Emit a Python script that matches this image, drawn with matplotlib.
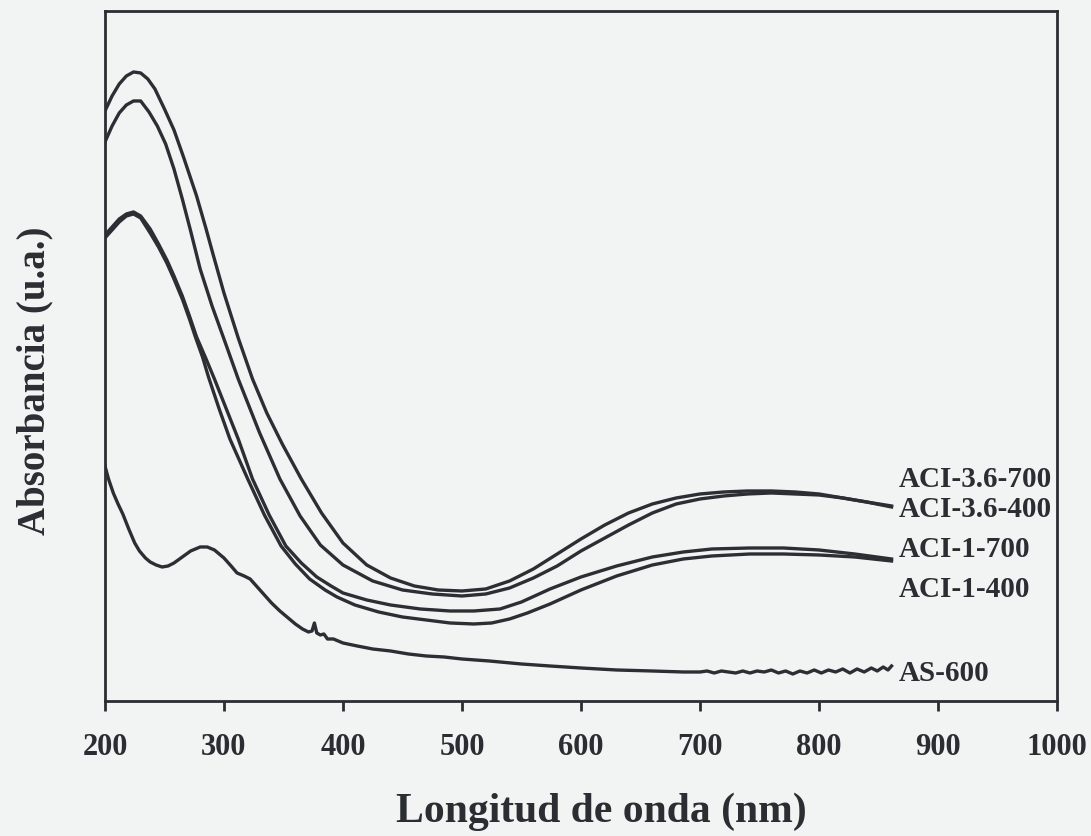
import matplotlib.pyplot as plt

plt.rcParams["font.family"] = ["Liberation Serif", "DejaVu Serif"]
plt.rcParams["font.weight"] = "bold"

LINE_COLOR = "#2b2f34"
TEXT_COLOR = "#2a2d31"
PAPER = "#f2f3f3"

# Espectros UV-vis (longitud de onda en nm, absorbancia en unidades arbitrarias)
aci36_700_nm = [200, 206, 212, 218, 224, 230, 236, 242, 250, 258, 266, 277, 285, 291,
                300, 312, 324, 336, 349, 365, 382, 400, 420, 440, 460, 480, 500, 520,
                540, 560, 580, 600, 620, 640, 660, 680, 700, 720, 740, 760, 780, 800,
                820, 840, 861]
aci36_700_abs = [5.90, 6.05, 6.17, 6.25, 6.29, 6.28, 6.22, 6.12, 5.92, 5.71, 5.44, 5.05,
                 4.72, 4.46, 4.08, 3.63, 3.22, 2.88, 2.57, 2.22, 1.88, 1.58, 1.36, 1.23,
                 1.15, 1.11, 1.10, 1.12, 1.20, 1.32, 1.47, 1.62, 1.76, 1.88, 1.97, 2.03,
                 2.07, 2.09, 2.10, 2.10, 2.09, 2.07, 2.03, 1.99, 1.95]

aci36_400_nm = [200, 206, 212, 218, 224, 230, 237, 244, 251, 258, 265, 272, 280, 290,
                300, 312, 330, 347, 364, 381, 400, 425, 450, 475, 500, 520, 540, 560,
                580, 600, 620, 640, 660, 680, 700, 720, 740, 760, 780, 800, 820, 840,
                861]
aci36_400_abs = [5.59, 5.75, 5.88, 5.96, 6.00, 6.00, 5.89, 5.75, 5.57, 5.32, 5.02, 4.70,
                 4.32, 3.95, 3.62, 3.22, 2.68, 2.22, 1.85, 1.56, 1.36, 1.20, 1.11, 1.07,
                 1.05, 1.07, 1.13, 1.23, 1.35, 1.50, 1.63, 1.76, 1.88, 1.97, 2.02, 2.05,
                 2.07, 2.08, 2.07, 2.06, 2.03, 1.99, 1.94]

aci1_700_nm = [200, 206, 212, 218, 224, 230, 238, 245, 252, 258, 265, 271, 277, 285,
               292, 302, 312, 324, 338, 352, 365, 378, 390, 400, 420, 440, 465, 490,
               510, 532, 550, 574, 600, 630, 660, 686, 710, 742, 770, 800, 830, 861]
aci1_700_abs = [4.66, 4.74, 4.82, 4.87, 4.89, 4.85, 4.72, 4.57, 4.41, 4.25, 4.05, 3.85,
                3.64, 3.42, 3.22, 2.92, 2.62, 2.22, 1.86, 1.55, 1.38, 1.24, 1.15, 1.08,
                1.01, 0.96, 0.92, 0.90, 0.90, 0.92, 0.99, 1.12, 1.24, 1.35, 1.44, 1.49,
                1.52, 1.53, 1.53, 1.51, 1.47, 1.42]

aci1_400_nm = [200, 206, 212, 218, 224, 230, 238, 245, 252, 258, 265, 271, 276, 282,
               287, 296, 305, 320, 334, 348, 360, 372, 385, 395, 410, 430, 450, 470,
               490, 510, 525, 540, 555, 574, 600, 630, 660, 686, 710, 742, 770, 800,
               830, 861]
aci1_400_abs = [4.63, 4.71, 4.79, 4.85, 4.87, 4.83, 4.68, 4.54, 4.38, 4.22, 4.02, 3.82,
                3.64, 3.44, 3.24, 2.92, 2.62, 2.22, 1.86, 1.55, 1.37, 1.22, 1.11, 1.04,
                0.96, 0.89, 0.84, 0.81, 0.78, 0.77, 0.78, 0.82, 0.88, 0.97, 1.11, 1.25,
                1.36, 1.42, 1.45, 1.47, 1.47, 1.46, 1.44, 1.40]

as600_nm = [200, 203, 207, 211, 215, 220, 225, 229, 234, 238, 243, 248, 253, 258, 265,
            272, 280, 286, 292, 300, 306, 311, 317, 322, 328, 334, 340, 347, 354, 360,
            366, 371, 374, 376, 378, 381, 384, 387, 392, 400, 412, 425, 440, 455, 470,
            485, 500, 523, 550, 574, 600, 630, 660, 686, 700, 706, 712, 718, 724, 730,
            736, 742, 748, 754, 760, 766, 772, 778, 784, 790, 796, 802, 808, 814, 820,
            826, 832, 838, 844, 849, 854, 858, 861]
as600_abs = [2.35, 2.22, 2.08, 1.97, 1.87, 1.72, 1.58, 1.50, 1.43, 1.39, 1.36, 1.34,
             1.35, 1.38, 1.44, 1.50, 1.54, 1.54, 1.51, 1.43, 1.35, 1.28, 1.25, 1.22,
             1.14, 1.06, 0.98, 0.90, 0.83, 0.77, 0.72, 0.69, 0.70, 0.78, 0.68, 0.66,
             0.67, 0.62, 0.62, 0.58, 0.55, 0.52, 0.50, 0.47, 0.45, 0.44, 0.42, 0.40,
             0.37, 0.35, 0.33, 0.31, 0.30, 0.29, 0.29, 0.30, 0.28, 0.30, 0.29, 0.28,
             0.30, 0.28, 0.30, 0.29, 0.31, 0.28, 0.30, 0.27, 0.30, 0.28, 0.31, 0.28,
             0.31, 0.29, 0.32, 0.28, 0.32, 0.29, 0.33, 0.30, 0.34, 0.31, 0.35]

series = [
    ("ACI-3.6-700", aci36_700_nm, aci36_700_abs, 2.22),
    ("ACI-3.6-400", aci36_400_nm, aci36_400_abs, 1.92),
    ("ACI-1-700", aci1_700_nm, aci1_700_abs, 1.52),
    ("ACI-1-400", aci1_400_nm, aci1_400_abs, 1.12),
    ("AS-600", as600_nm, as600_abs, 0.28),
]

fig = plt.figure(figsize=(10.91, 8.37), dpi=100, facecolor=PAPER)
ax = fig.add_axes([0.0962, 0.1613, 0.8726, 0.8244])
ax.set_facecolor(PAPER)

for name, nm, absorb, label_y in series:
    ax.plot(nm, absorb, color=LINE_COLOR, lw=2.4, solid_joinstyle="round")
    ax.text(867, label_y, name, ha="left", va="center", fontsize=21,
            fontweight="bold", color=TEXT_COLOR)

ax.set_xlim(200, 1000)
ax.set_ylim(0, 6.9)
ax.set_xticks(range(200, 1001, 100))
ax.set_yticks([])
ax.tick_params(axis="x", direction="out", length=7, width=2, labelsize=22,
               pad=15, colors=TEXT_COLOR)
for lab in ax.get_xticklabels():
    lab.set_fontweight("bold")
for spine in ax.spines.values():
    spine.set_linewidth(2)
    spine.set_color(TEXT_COLOR)

ax.set_xlabel("Longitud de onda (nm)", fontsize=30, fontweight="bold", color=TEXT_COLOR)
ax.xaxis.set_label_coords(0.521, -0.159)
ax.xaxis.label.set_va("center")
ax.set_ylabel("Absorbancia (u.a.)", fontsize=28, fontweight="bold", color=TEXT_COLOR)
ax.yaxis.set_label_coords(-0.0735, 0.465)
ax.yaxis.label.set_va("center")

fig.savefig("out.png", dpi=100, facecolor=fig.get_facecolor())
